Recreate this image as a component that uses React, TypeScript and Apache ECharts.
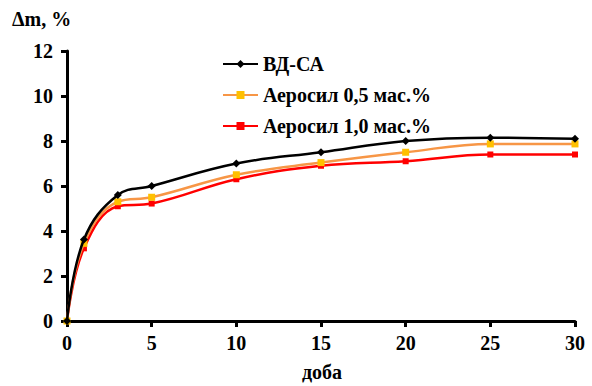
import React, { useEffect, useRef } from "react";
import * as echarts from "echarts";

const days = [0, 1, 3, 5, 10, 15, 20, 25, 30];
const vdSa = [0, 3.62, 5.6, 6.0, 7.0, 7.5, 8.0, 8.15, 8.1];
const aer05 = [0, 3.45, 5.3, 5.5, 6.5, 7.04, 7.5, 7.87, 7.87];
const aer10 = [0, 3.23, 5.1, 5.22, 6.3, 6.9, 7.1, 7.4, 7.4];
const seriesNames = ["ВД-СА", "Аеросил 0,5 мас.%", "Аеросил 1,0 мас.%"];
const yTitle = "Δm, %";
const xTitle = "доба";

const FONT = "Times New Roman, Liberation Serif, DejaVu Serif, serif";

export default function App() {
  const ref = useRef<HTMLDivElement>(null);
  useEffect(() => {
    if (!ref.current) return;
    const chart = echarts.init(ref.current, null, { renderer: "svg" });
    const mk = (vals: number[]) => days.map((d, i) => [d, vals[i]]);
    chart.setOption({
      animation: false,
      textStyle: { fontFamily: FONT },
      grid: { left: 67, right: 17, top: 51, bottom: 65 },
      legend: {
        orient: "vertical",
        left: 217,
        top: 49,
        itemWidth: 35,
        itemHeight: 10,
        itemGap: 11,
        textStyle: { fontFamily: FONT, fontWeight: "bold", fontSize: 20, color: "#000" },
        data: seriesNames,
      },
      xAxis: {
        type: "value",
        min: 0,
        max: 30,
        interval: 5,
        splitLine: { show: false },
        axisLine: { show: true, lineStyle: { color: "#000", width: 3 } },
        axisTick: { show: true, length: 6, lineStyle: { color: "#000", width: 3 } },
        axisLabel: { fontFamily: FONT, fontWeight: "bold", fontSize: 20, color: "#000", margin: 12 },
      },
      yAxis: {
        type: "value",
        min: 0,
        max: 12,
        interval: 2,
        splitLine: { show: false },
        axisLine: { show: true, lineStyle: { color: "#000", width: 3 } },
        axisTick: { show: true, length: 6, lineStyle: { color: "#000", width: 3 } },
        axisLabel: { fontFamily: FONT, fontWeight: "bold", fontSize: 20, color: "#000", margin: 14 },
      },
      graphic: [
        {
          type: "text",
          left: 12,
          top: 9,
          style: { text: yTitle, fontFamily: FONT, fontWeight: "bold", fontSize: 20, fill: "#000" },
        },
        {
          type: "text",
          left: 302,
          top: 362,
          style: { text: xTitle, fontFamily: FONT, fontWeight: "bold", fontSize: 20, fill: "#000" },
        },
      ],
      series: [
        {
          name: seriesNames[0],
          type: "line",
          smooth: 0.4,
          data: mk(vdSa),
          symbol: "diamond",
          symbolSize: 8,
          itemStyle: { color: "#000" },
          lineStyle: { color: "#000", width: 2.5 },
          z: 3,
        },
        {
          name: seriesNames[1],
          type: "line",
          smooth: 0.4,
          data: mk(aer05),
          symbol: "rect",
          symbolSize: 7,
          itemStyle: { color: "#FFC000" },
          lineStyle: { color: "#F79646", width: 2.5 },
          z: 2,
        },
        {
          name: seriesNames[2],
          type: "line",
          smooth: 0.4,
          data: mk(aer10),
          symbol: "rect",
          symbolSize: 6,
          itemStyle: { color: "#FF0000" },
          lineStyle: { color: "#FF0000", width: 2.5 },
          z: 1,
        },
      ],
    });
    return () => chart.dispose();
  }, []);
  return <div ref={ref} style={{ width: 592, height: 386, position: "absolute", left: 0, top: 0 }} />;
}
